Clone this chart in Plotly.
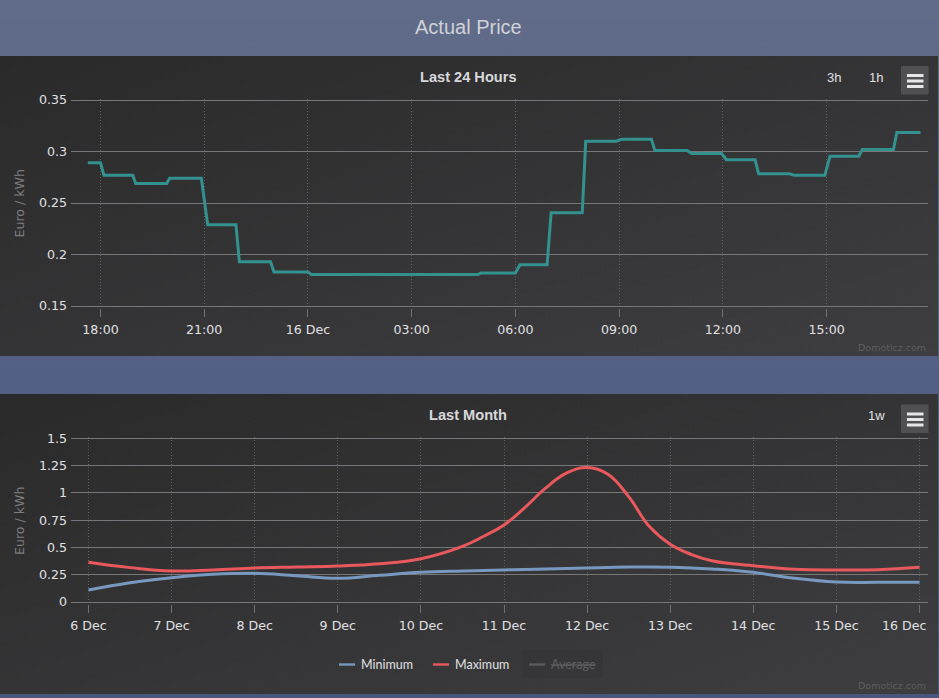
import base64

import plotly.graph_objects as go
from plotly.subplots import make_subplots

W, H = 939, 698

# Last 24 hours
price_times = [
    "2021-12-15 17:38", "2021-12-15 18:00", "2021-12-15 18:06", "2021-12-15 18:56", "2021-12-15 19:01",
    "2021-12-15 19:55", "2021-12-15 20:00", "2021-12-15 20:55", "2021-12-15 21:06", "2021-12-15 21:55",
    "2021-12-15 22:01", "2021-12-15 22:55", "2021-12-15 23:01", "2021-12-16 00:00", "2021-12-16 00:06",
    "2021-12-16 02:00", "2021-12-16 02:03", "2021-12-16 03:55", "2021-12-16 04:00", "2021-12-16 04:55",
    "2021-12-16 05:00", "2021-12-16 06:00", "2021-12-16 06:08", "2021-12-16 06:55", "2021-12-16 07:02",
    "2021-12-16 07:56", "2021-12-16 08:02", "2021-12-16 08:55", "2021-12-16 09:05", "2021-12-16 09:56",
    "2021-12-16 10:02", "2021-12-16 10:58", "2021-12-16 11:06", "2021-12-16 11:58", "2021-12-16 12:06",
    "2021-12-16 12:56", "2021-12-16 13:02", "2021-12-16 13:55", "2021-12-16 14:03", "2021-12-16 14:57",
    "2021-12-16 15:06", "2021-12-16 15:56", "2021-12-16 16:02", "2021-12-16 16:56", "2021-12-16 17:02",
    "2021-12-16 17:43",
]
price_values = [
    0.289, 0.289, 0.277, 0.277, 0.269,
    0.269, 0.274, 0.274, 0.229, 0.229,
    0.193, 0.193, 0.183, 0.183, 0.1805,
    0.1805, 0.180, 0.180, 0.1805, 0.1805,
    0.182, 0.182, 0.190, 0.190, 0.2405,
    0.2405, 0.310, 0.310, 0.312, 0.312,
    0.301, 0.301, 0.298, 0.298, 0.292,
    0.292, 0.2785, 0.2785, 0.277, 0.277,
    0.2955, 0.2955, 0.302, 0.302, 0.3185,
    0.3185,
]
price_yticks = [0.15, 0.2, 0.25, 0.3, 0.35]
price_ylabels = ["0.15", "0.2", "0.25", "0.3", "0.35"]
price_xticks = [
    "2021-12-15 18:00", "2021-12-15 21:00", "2021-12-16 00:00", "2021-12-16 03:00",
    "2021-12-16 06:00", "2021-12-16 09:00", "2021-12-16 12:00", "2021-12-16 15:00",
]
price_xlabels = ["18:00", "21:00", "16 Dec", "03:00", "06:00", "09:00", "12:00", "15:00"]

# Last month
month_days = [
    "2021-12-06 00:00", "2021-12-06 12:00", "2021-12-07 00:00", "2021-12-07 12:00", "2021-12-08 00:00",
    "2021-12-08 12:00", "2021-12-09 00:00", "2021-12-09 12:00", "2021-12-10 00:00", "2021-12-10 12:00",
    "2021-12-10 18:00", "2021-12-11 00:00", "2021-12-11 06:00", "2021-12-11 12:00", "2021-12-11 18:00",
    "2021-12-12 00:00", "2021-12-12 06:00", "2021-12-12 12:00", "2021-12-12 18:00", "2021-12-13 00:00",
    "2021-12-13 06:00", "2021-12-13 12:00", "2021-12-13 18:00", "2021-12-14 00:00", "2021-12-14 12:00",
    "2021-12-15 00:00", "2021-12-15 12:00", "2021-12-16 00:00",
]
month_min = [
    0.11, 0.177, 0.223, 0.254, 0.263,
    0.241, 0.217, 0.245, 0.272, 0.284,
    0.289, 0.294, 0.298, 0.302, 0.307,
    0.312, 0.316, 0.32, 0.32, 0.318,
    0.312, 0.303, 0.292, 0.272, 0.217,
    0.183, 0.18, 0.18,
]
month_max = [
    0.364, 0.315, 0.284, 0.294, 0.312,
    0.321, 0.33, 0.351, 0.397, 0.51,
    0.60, 0.706, 0.865, 1.043, 1.18,
    1.232, 1.171, 0.966, 0.691, 0.529,
    0.437, 0.378, 0.35, 0.333, 0.30,
    0.294, 0.296, 0.318,
]
month_yticks = [0, 0.25, 0.5, 0.75, 1, 1.25, 1.5]
month_ylabels = ["0", "0.25", "0.5", "0.75", "1", "1.25", "1.5"]
month_xticks = ["2021-12-%02d" % d for d in range(6, 17)]
month_xlabels = ["%d Dec" % d for d in range(6, 16)] + [""]

legend_names = ["Minimum", "Maximum", "Average"]
legend_colors = ["#7798BF", "#e8585c", "#5a5a5c"]


def fx(px):
    return px / W


def fy(px):
    return 1 - px / H


# page and panel backgrounds
svg = f"""<svg xmlns="http://www.w3.org/2000/svg" width="{W}" height="{H}">
<defs>
<linearGradient id="page" x1="0" y1="0" x2="0" y2="1"><stop offset="0" stop-color="#616c89"/><stop offset="1" stop-color="#48567e"/></linearGradient>
<linearGradient id="panel" x1="0" y1="0" x2="1" y2="1"><stop offset="0" stop-color="#2a2a2b"/><stop offset="1" stop-color="#3e3e40"/></linearGradient>
</defs>
<rect width="{W}" height="{H}" fill="url(#page)"/>
<rect x="0" y="56" width="938" height="300" fill="url(#panel)"/>
<rect x="0" y="394" width="938" height="300" fill="url(#panel)"/>
</svg>"""
bg_source = "data:image/svg+xml;base64," + base64.b64encode(svg.encode()).decode()

fig = make_subplots(rows=2, cols=1)

fig.add_trace(
    go.Scatter(
        x=price_times, y=price_values, mode="lines", name="Price",
        line=dict(color="#33918f", width=3), showlegend=False,
    ),
    row=1, col=1,
)
fig.add_trace(
    go.Scatter(
        x=month_days, y=month_min, mode="lines", name="Minimum",
        line=dict(color="#7798BF", width=3, shape="spline", smoothing=1.2), showlegend=False,
    ),
    row=2, col=1,
)
fig.add_trace(
    go.Scatter(
        x=month_days, y=month_max, mode="lines", name="Maximum",
        line=dict(color="#e8585c", width=3, shape="spline", smoothing=1.2), showlegend=False,
    ),
    row=2, col=1,
)

tick_font = dict(family="DejaVu Sans", size=12.6, color="#e0e0e3")
x_common = dict(
    type="date", tickmode="array", ticks="outside", ticklen=8.5, tickwidth=1, tickcolor="#707073",
    tickangle=0, showline=False, zeroline=False, showgrid=True, gridcolor="#5f5f62", griddash="1px,2px",
    gridwidth=1, tickfont=tick_font, ticklabelstandoff=2, fixedrange=True,
)
y_common = dict(
    tickmode="array", ticks="", showline=False, zeroline=False, showgrid=True, gridcolor="#77777a",
    gridwidth=1, tickfont=tick_font, ticklabelstandoff=3, fixedrange=True,
)

# ranges run a little past the outer ticks, plotly drops gridlines sitting on the very edge
fig.update_xaxes(
    domain=[fx(71), fx(928)], range=["2021-12-15 17:08:48", "2021-12-16 17:56"],
    tickvals=price_xticks, ticktext=price_xlabels, row=1, col=1, **x_common,
)
fig.update_yaxes(
    domain=[fy(307.5), fy(98.5)], range=[0.14854, 0.35146],
    tickvals=price_yticks, ticktext=price_ylabels, row=1, col=1, **y_common,
)
fig.update_xaxes(
    domain=[fx(71), fx(928)], range=["2021-12-05 18:57", "2021-12-16 02:27"],
    tickvals=month_xticks, ticktext=month_xlabels, row=2, col=1, **x_common,
)
fig.update_yaxes(
    domain=[fy(603.5), fy(436.8)], range=[-0.01376, 1.51376],
    tickvals=month_yticks, ticktext=month_ylabels, row=2, col=1, **y_common,
)


def label(text, x, y, size=12, color="#e0e0e3", family="DejaVu Sans", anchor="center", angle=0):
    fig.add_annotation(
        text=text, x=fx(x), y=fy(y), xref="paper", yref="paper", showarrow=False,
        xanchor=anchor, yanchor="middle", textangle=angle,
        font=dict(family=family, size=size, color=color),
    )


def rect(x0, y0, x1, y1, color):
    fig.add_shape(
        type="rect", xref="paper", yref="paper", x0=fx(x0), x1=fx(x1), y0=fy(y0), y1=fy(y1),
        fillcolor=color, line_width=0, layer="above",
    )


def menu_button(top):
    rect(901, top, 928.5, top + 28.5, "#505053")
    rect(907, top + 8, 923.5, top + 11, "#e6e6e6")
    rect(907, top + 13.5, 923.5, top + 16.5, "#e6e6e6")
    rect(907, top + 19, 923.5, top + 22, "#e6e6e6")


label("Actual Price", 468, 27.5, size=20, color="#cfd2d8", family="Liberation Sans")
label("<b>Last 24 Hours</b>", 468, 76.5, size=14.6, color="#d8d8da", family="Liberation Sans")
label("<b>Last Month</b>", 468, 414.5, size=14.6, color="#d8d8da", family="Liberation Sans")
label("Euro / kWh", 19.5, 203, size=12.6, color="#7d7d80", angle=-90)
label("Euro / kWh", 19.5, 520.5, size=12.6, color="#7d7d80", angle=-90)
label("3h", 833.5, 77, size=13, family="Liberation Sans")
label("1h", 876, 77, size=13, family="Liberation Sans")
label("1w", 876, 415.5, size=13, family="Liberation Sans")
label("Domoticz.com", 928, 347.5, size=9.5, color="#5c5c5f", anchor="right")
label("Domoticz.com", 928, 685.5, size=9.5, color="#5c5c5f", anchor="right")
label("16 Dec", 928, 625.5, size=12.6, anchor="right")
menu_button(66)
menu_button(404.5)

# legend row, Average is switched off in the original
rect(522, 650, 603, 678, "rgba(0,0,0,0.05)")
legend_lines = [339, 433, 529]
for name, color, left in zip(legend_names, legend_colors, legend_lines):
    rect(left, 663.3, left + 16, 665.7, color)
    text = name if name != "Average" else f"<s>{name}</s>"
    label(text, left + 20, 664.5, family="Lato", size=12.5, color="#e0e0e3" if name != "Average" else "#5f5f62", anchor="left")

fig.update_layout(
    width=W,
    height=H,
    margin=dict(l=0, r=0, t=0, b=0, autoexpand=False),
    paper_bgcolor="#4f5c80",
    plot_bgcolor="rgba(0,0,0,0)",
    showlegend=False,
    images=[
        dict(
            source=bg_source, xref="paper", yref="paper", x=0, y=1, sizex=1, sizey=1,
            xanchor="left", yanchor="top", sizing="stretch", layer="below",
        )
    ],
)

fig.write_html(
    "out.html",
    config={"displayModeBar": False},
    post_script="document.body.style.margin='0';document.body.style.overflow='hidden';",
)
